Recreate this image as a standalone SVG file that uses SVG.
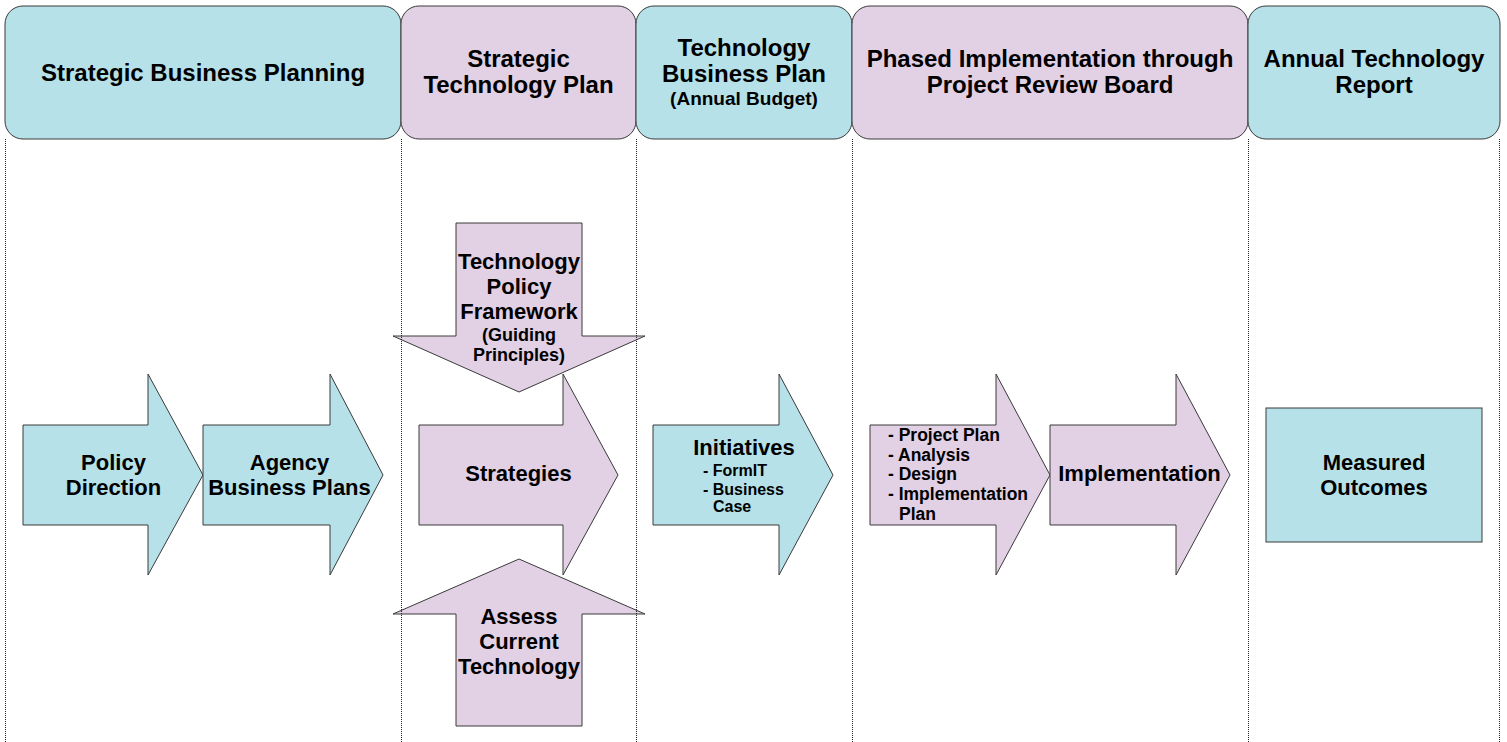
<svg xmlns="http://www.w3.org/2000/svg" width="1507" height="742" viewBox="0 0 1507 742">
<style>
  .teal{fill:#b7e1e8;stroke:#3a3a3a;stroke-width:1}
  .lav{fill:#e2d0e5;stroke:#3a3a3a;stroke-width:1}
  .lane{stroke:#222;stroke-width:1;stroke-dasharray:1 1;fill:none}
  text{font-family:"Liberation Sans",Arial,sans-serif;font-weight:bold;fill:#000}
  .h{font-size:24px;text-anchor:middle}
  .hs{font-size:19px;text-anchor:middle}
  .b{font-size:22px;text-anchor:middle}
  .s{font-size:18px;text-anchor:middle}
  .l{font-size:16px}
  .p{font-size:17.5px}
</style>
<rect width="1507" height="742" fill="#ffffff"/>

<g id="headers">
  <g id="h-sbp">
    <rect class="teal" x="5" y="6" width="396" height="133" rx="18"/>
    <text class="h" x="203" y="80.5">Strategic Business Planning</text>
  </g>
  <g id="h-stp">
    <rect class="lav" x="401" y="6" width="235" height="133" rx="18"/>
    <text class="h" x="518.5" y="66.5">Strategic</text>
    <text class="h" x="518.5" y="92.5">Technology Plan</text>
  </g>
  <g id="h-tbp">
    <rect class="teal" x="636" y="6" width="216" height="133" rx="18"/>
    <text class="h" x="744" y="55.5">Technology</text>
    <text class="h" x="744" y="81.5">Business Plan</text>
    <text class="hs" x="744" y="104.5">(Annual Budget)</text>
  </g>
  <g id="h-pi">
    <rect class="lav" x="852" y="6" width="396" height="133" rx="18"/>
    <text class="h" x="1050" y="66.5">Phased Implementation through</text>
    <text class="h" x="1050" y="92.5">Project Review Board</text>
  </g>
  <g id="h-atr">
    <rect class="teal" x="1248" y="6" width="252" height="133" rx="18"/>
    <text class="h" x="1374" y="66.5">Annual Technology</text>
    <text class="h" x="1374" y="92.5">Report</text>
  </g>
</g>

<g id="policy-direction">
  <polygon class="teal" points="23,425 148,425 148,374 203,475 148,575 148,525 23,525"/>
  <text class="b" x="113.5" y="470">Policy</text>
  <text class="b" x="113.5" y="495">Direction</text>
</g>
<g id="agency-business-plans">
  <polygon class="teal" points="203,425 330,425 330,374 383,475 330,575 330,525 203,525"/>
  <text class="b" x="289.5" y="470">Agency</text>
  <text class="b" x="289.5" y="495">Business Plans</text>
</g>
<g id="strategies">
  <polygon class="lav" points="419,425 563,425 563,374 618,475 563,575 563,525 419,525"/>
  <text class="b" x="518.5" y="481">Strategies</text>
</g>
<g id="tech-policy-framework">
  <polygon class="lav" points="456,223 582,223 582,336 645,336 519,392 393,336 456,336"/>
  <text class="b" x="519" y="269">Technology</text>
  <text class="b" x="519" y="294">Policy</text>
  <text class="b" x="519" y="319">Framework</text>
  <text class="s" x="519" y="340.5">(Guiding</text>
  <text class="s" x="519" y="360.5">Principles)</text>
</g>
<g id="assess-current-tech">
  <polygon class="lav" points="519,559 645,614 582,614 582,726 456,726 456,614 393,614"/>
  <text class="b" x="519" y="624">Assess</text>
  <text class="b" x="519" y="649">Current</text>
  <text class="b" x="519" y="674">Technology</text>
</g>
<g id="initiatives">
  <polygon class="teal" points="653,425 779,425 779,374 833,475 779,575 779,525 653,525"/>
  <text class="b" x="744" y="455">Initiatives</text>
  <text class="l" x="703" y="476">- FormIT</text>
  <text class="l" x="703" y="495">- Business</text>
  <text class="l" x="713" y="512">Case</text>
</g>
<g id="project-phases">
  <polygon class="lav" points="870,425 996,425 996,374 1050,475 996,575 996,525 870,525"/>
  <text class="p" x="888" y="440.5">- Project Plan</text>
  <text class="p" x="888" y="460.5">- Analysis</text>
  <text class="p" x="888" y="479.5">- Design</text>
  <text class="p" x="888" y="499.5">- Implementation</text>
  <text class="p" x="899" y="519.5">Plan</text>
</g>
<g id="implementation">
  <polygon class="lav" points="1050,425 1176,425 1176,374 1230,475 1176,575 1176,525 1050,525"/>
  <text class="b" x="1139.5" y="481">Implementation</text>
</g>
<g id="measured-outcomes">
  <rect class="teal" x="1266" y="408" width="216" height="134"/>
  <text class="b" x="1374" y="470">Measured</text>
  <text class="b" x="1374" y="495">Outcomes</text>
</g>

<g id="connectors">
  <line class="lane" x1="5.5" y1="139" x2="5.5" y2="742"/>
  <line class="lane" x1="401.5" y1="139" x2="401.5" y2="742"/>
  <line class="lane" x1="636.5" y1="139" x2="636.5" y2="742"/>
  <line class="lane" x1="852.5" y1="139" x2="852.5" y2="742"/>
  <line class="lane" x1="1248.5" y1="139" x2="1248.5" y2="742"/>
  <line class="lane" x1="1499.5" y1="139" x2="1499.5" y2="742"/>
</g>
</svg>
